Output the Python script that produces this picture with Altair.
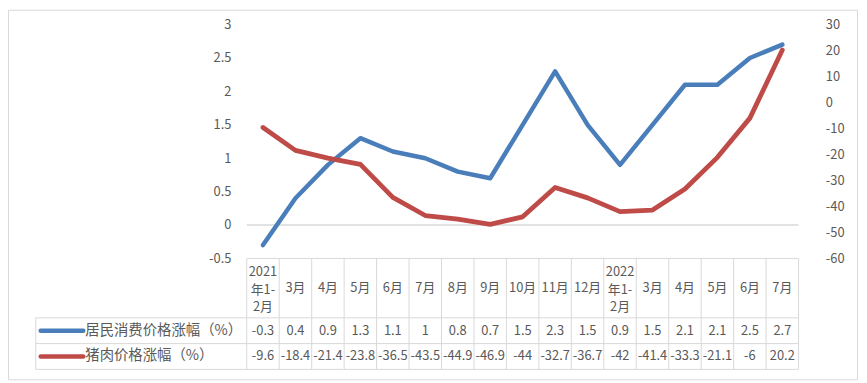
import altair as alt
import pandas as pd

categories = ["2021\n年1-\n2月", "3月", "4月", "5月", "6月", "7月", "8月", "9月", "10月",
              "11月", "12月", "2022\n年1-\n2月", "3月", "4月", "5月", "6月", "7月"]
cpi = [-0.3, 0.4, 0.9, 1.3, 1.1, 1, 0.8, 0.7, 1.5, 2.3, 1.5, 0.9, 1.5, 2.1, 2.1, 2.5, 2.7]
pork = [-9.6, -18.4, -21.4, -23.8, -36.5, -43.5, -44.9, -46.9, -44, -32.7, -36.7, -42,
        -41.4, -33.3, -21.1, -6, 20.2]
series_names = ["居民消费价格涨幅（%）", "猪肉价格涨幅（%）"]
left_ticks = [-0.5, 0, 0.5, 1, 1.5, 2, 2.5, 3]
right_ticks = [-60, -50, -40, -30, -20, -10, 0, 10, 20, 30]

BLUE = "#4a7ebb"
RED = "#be4b48"
GRID = "#d9d9d9"
TXT = "#595959"
FONT = "Noto Sans CJK SC"

n = len(categories)
df = pd.DataFrame({"i": list(range(n)), "cat": categories, "cpi": cpi, "pork": pork})
df["cpi_lbl"] = [f"{v:g}" for v in cpi]
df["pork_lbl"] = [f"{v:g}" for v in pork]
df["multi"] = ["\n" in c for c in categories]

W, H = 557, 236
xs = alt.Scale(domain=[-0.5, n - 0.5], nice=False, zero=False)
X = alt.X("i:Q", scale=xs, axis=None)
left_scale = alt.Scale(domain=[-0.5, 3], nice=False, zero=False)
right_scale = alt.Scale(domain=[-60, 30], nice=False, zero=False)

left_axis = alt.Axis(orient="left", values=left_ticks, labelExpr="'' + datum.value",
                     labelPadding=16, title=None)
right_axis = alt.Axis(orient="right", values=right_ticks, labelExpr="'' + datum.value",
                      labelPadding=27, title=None)

base = alt.Chart(df)
dummy = alt.Chart(pd.DataFrame({"a": [0]}))

zero = alt.Chart(pd.DataFrame({"x": [-0.5], "x2": [n - 0.5], "y": [0]})).mark_rule(
    color=GRID, strokeWidth=1.5).encode(
    x=alt.X("x:Q", scale=xs, axis=None), x2="x2:Q",
    y=alt.Y("y:Q", scale=left_scale, axis=left_axis))

blue = base.mark_line(color=BLUE, strokeWidth=4.5, strokeJoin="round", strokeCap="round").encode(
    x=X, y=alt.Y("cpi:Q", scale=left_scale, axis=left_axis))

red = base.mark_line(color=RED, strokeWidth=4.8, strokeJoin="round", strokeCap="round").encode(
    x=X, y=alt.Y("pork:Q", scale=right_scale, axis=right_axis))

# data table
header1 = base.transform_filter("!datum.multi").mark_text(
    font=FONT, fontSize=13, color=TXT, baseline="middle").encode(
    x=X, y=alt.value(266), text="cat:N")
header3 = base.transform_filter("datum.multi").mark_text(
    font=FONT, fontSize=13, color=TXT, lineBreak="\n", lineHeight=17.5,
    baseline="middle").encode(x=X, y=alt.value(250), text="cat:N")
row1 = base.mark_text(font=FONT, fontSize=13, color=TXT, baseline="middle").encode(
    x=X, y=alt.value(309), text="cpi_lbl:N")
row2 = base.mark_text(font=FONT, fontSize=13, color=TXT, baseline="middle").encode(
    x=X, y=alt.value(335), text="pork_lbl:N")

vlines = alt.Chart(pd.DataFrame({"b": [k - 0.5 for k in range(n + 1)]})).mark_rule(
    color=GRID, strokeWidth=1).encode(
    x=alt.X("b:Q", scale=xs, axis=None), y=alt.value(236), y2=alt.value(348))
top_line = dummy.mark_rule(color=GRID, strokeWidth=1).encode(
    x=alt.value(0), x2=alt.value(W), y=alt.value(236))
row_lines = [dummy.mark_rule(color=GRID, strokeWidth=1).encode(
    x=alt.value(-213), x2=alt.value(W), y=alt.value(yv)) for yv in (296, 322, 348)]
leg_left = dummy.mark_rule(color=GRID, strokeWidth=1).encode(
    x=alt.value(-213), y=alt.value(296), y2=alt.value(348))

key1 = dummy.mark_rule(color=BLUE, strokeWidth=4.5, strokeCap="round").encode(
    x=alt.value(-208), x2=alt.value(-165), y=alt.value(309))
key2 = dummy.mark_rule(color=RED, strokeWidth=4.5, strokeCap="round").encode(
    x=alt.value(-208), x2=alt.value(-165), y=alt.value(335))
leg_df = pd.DataFrame({"name": series_names})
leg1 = alt.Chart(leg_df.iloc[[0]]).mark_text(font=FONT, fontSize=14.5, color=TXT, align="left",
                                             baseline="middle").encode(
    x=alt.value(-163), y=alt.value(309), text="name:N")
leg2 = alt.Chart(leg_df.iloc[[1]]).mark_text(font=FONT, fontSize=14.5, color=TXT, align="left",
                                             baseline="middle").encode(
    x=alt.value(-163), y=alt.value(335), text="name:N")

border = dummy.mark_rect(fill="transparent", stroke=GRID, strokeWidth=1).encode(
    x=alt.value(-240.5), x2=alt.value(616.5), y=alt.value(-14.5), y2=alt.value(358.5))

chart = alt.layer(
    alt.layer(zero, blue), red,
    border, header1, header3, row1, row2, vlines, top_line, *row_lines, leg_left,
    key1, key2, leg1, leg2,
).resolve_scale(y="independent").properties(
    width=W, height=H,
    autosize=alt.AutoSizeParams(type="none"),
    padding={"left": 241, "top": 15, "right": 61, "bottom": 124},
    background="white",
).configure_view(stroke=None).configure_axis(
    domain=False, ticks=False, grid=False, labelFont=FONT, labelFontSize=13, labelColor=TXT,
)

chart.save("out.html", embed_options={"renderer": "svg", "actions": False})
